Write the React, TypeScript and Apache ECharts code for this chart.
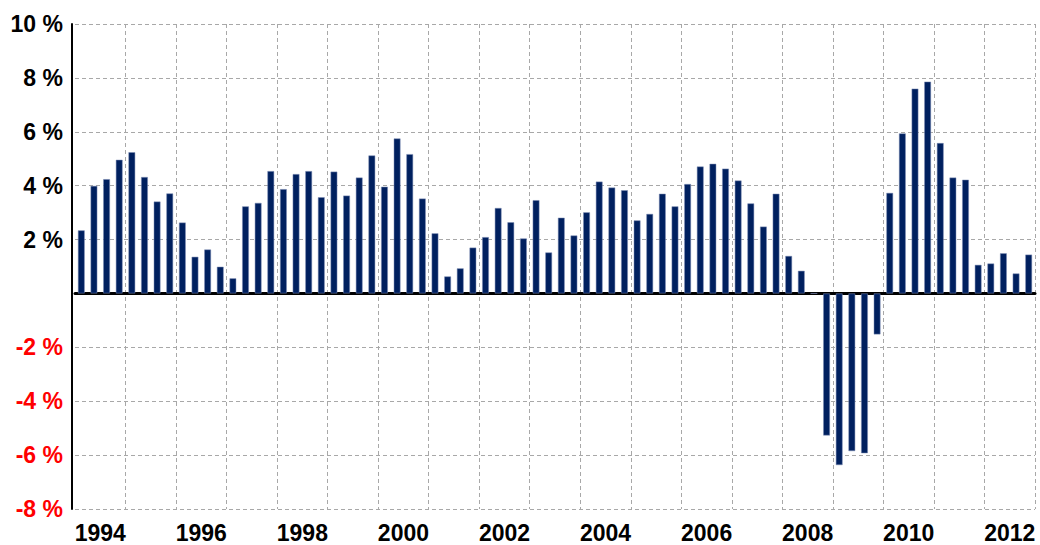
import React, { useEffect, useRef } from "react";
import * as echarts from "echarts";

const years: string[] = [
  "1994", "1995", "1996", "1997", "1998", "1999", "2000", "2001", "2002", "2003",
  "2004", "2005", "2006", "2007", "2008", "2009", "2010", "2011", "2012",
];
const quarterLabels: string[] = ["Q1", "Q2", "Q3", "Q4"];
const quarters: string[] = years.flatMap((y) => quarterLabels.map((q) => `${y} ${q}`));

const growth: number[] = [
  2.34, 3.99, 4.24, 4.96,
  5.24, 4.32, 3.41, 3.71,
  2.63, 1.36, 1.63, 0.99,
  0.56, 3.23, 3.36, 4.54,
  3.87, 4.43, 4.54, 3.57,
  4.52, 3.63, 4.30, 5.12,
  3.96, 5.75, 5.17, 3.52,
  2.23, 0.63, 0.93, 1.70,
  2.09, 3.17, 2.64, 2.04,
  3.46, 1.52, 2.81, 2.15,
  3.01, 4.15, 3.93, 3.83,
  2.71, 2.95, 3.70, 3.23,
  4.06, 4.71, 4.81, 4.63,
  4.19, 3.34, 2.48, 3.70,
  1.39, 0.84, 0, -5.27,
  -6.37, -5.85, -5.93, -1.52,
  3.73, 5.94, 7.60, 7.86,
  5.58, 4.30, 4.22, 1.06,
  1.11, 1.49, 0.74, 1.44,
];

const yMin = -8;
const yMax = 10;
const yStep = 2;

const FONT = "'Liberation Sans', Arial, sans-serif";
const GRID_DASH = { color: "#a8a8a8", width: 1, type: [4, 3] as number[] };

export default function App() {
  const ref = useRef<HTMLDivElement>(null);

  useEffect(() => {
    if (!ref.current) return;
    const chart = echarts.init(ref.current, null, { renderer: "svg" });
    chart.setOption({
      animation: false,
      grid: { left: 75, right: 5, top: 24, bottom: 36, containLabel: false },
      xAxis: [
        {
          type: "category",
          data: quarters,
          position: "bottom",
          boundaryGap: true,
          axisLine: { show: true, onZero: true, lineStyle: { color: "#000", width: 3 } },
          axisTick: { show: false },
          axisLabel: { show: false },
          splitLine: { show: false },
        },
        {
          type: "category",
          data: years,
          position: "bottom",
          boundaryGap: true,
          axisLine: { show: false, onZero: false },
          axisTick: { show: false },
          axisLabel: {
            show: true,
            interval: 1,
            fontSize: 23,
            fontWeight: "bold",
            fontFamily: FONT,
            color: "#000",
            margin: 12,
          },
          splitLine: {
            show: true,
            interval: (index: number) => index > 0,
            lineStyle: GRID_DASH,
          },
        },
      ],
      yAxis: {
        type: "value",
        min: yMin,
        max: yMax,
        interval: yStep,
        offset: 3,
        axisLine: { show: true, lineStyle: { color: "#000", width: 2 } },
        axisTick: { show: false },
        axisLabel: {
          fontSize: 23,
          fontWeight: "bold",
          fontFamily: FONT,
          margin: 9,
          formatter: (v: number) => (v === 0 ? "" : `${v} %`),
          color: (v: any) => (Number(v) < 0 ? "#ff0000" : "#000000"),
        },
        splitLine: { show: true, lineStyle: GRID_DASH },
      },
      series: [
        {
          type: "bar",
          xAxisIndex: 0,
          data: growth,
          barWidth: "53%",
          itemStyle: { color: "#00205f", borderColor: "#7d8db5", borderWidth: 0.5 },
          z: 3,
        },
      ],
    });
    return () => chart.dispose();
  }, []);

  return (
    <div
      ref={ref}
      style={{ position: "fixed", left: 0, top: 0, width: 1040, height: 545, background: "#fff" }}
    />
  );
}
